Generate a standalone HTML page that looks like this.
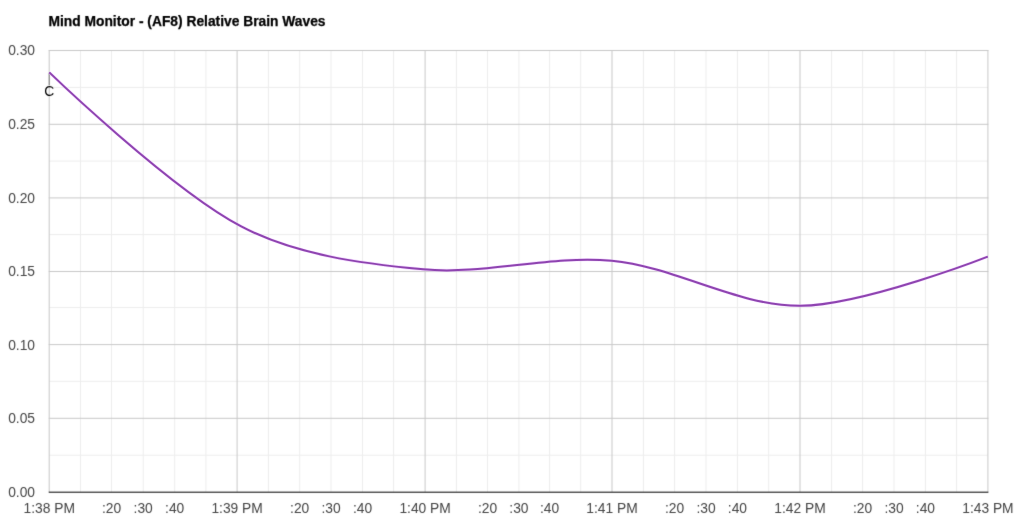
<!DOCTYPE html>
<html lang="en">
<head>
<meta charset="utf-8">
<title>Mind Monitor - (AF8) Relative Brain Waves</title>
<style>
html,body{margin:0;padding:0;background:#ffffff;}
body{width:1024px;height:519px;overflow:hidden;font-family:"Liberation Sans",sans-serif;}
svg{display:block;}
</style>
</head>
<body>
<svg width="1024" height="519" viewBox="0 0 1024 519">
<defs><filter id="soft" x="0" y="0" width="1024" height="519" filterUnits="userSpaceOnUse" color-interpolation-filters="sRGB"><feConvolveMatrix order="3" kernelMatrix="0.015 0.075 0.015 0.075 0.64 0.075 0.015 0.075 0.015" divisor="1" edgeMode="duplicate" preserveAlpha="false"/></filter></defs>
<g filter="url(#soft)">
<rect x="0" y="0" width="1024" height="519" fill="#ffffff"/>
<g fill="#ededed">
<rect x="80.00" y="50.50" width="1" height="441.50"/>
<rect x="111.00" y="50.50" width="1" height="441.50"/>
<rect x="142.70" y="50.50" width="1" height="441.50"/>
<rect x="174.20" y="50.50" width="1" height="441.50"/>
<rect x="205.40" y="50.50" width="1" height="441.50"/>
<rect x="267.90" y="50.50" width="1" height="441.50"/>
<rect x="299.20" y="50.50" width="1" height="441.50"/>
<rect x="330.50" y="50.50" width="1" height="441.50"/>
<rect x="362.00" y="50.50" width="1" height="441.50"/>
<rect x="393.10" y="50.50" width="1" height="441.50"/>
<rect x="455.90" y="50.50" width="1" height="441.50"/>
<rect x="487.00" y="50.50" width="1" height="441.50"/>
<rect x="518.40" y="50.50" width="1" height="441.50"/>
<rect x="549.10" y="50.50" width="1" height="441.50"/>
<rect x="580.20" y="50.50" width="1" height="441.50"/>
<rect x="642.90" y="50.50" width="1" height="441.50"/>
<rect x="674.10" y="50.50" width="1" height="441.50"/>
<rect x="705.50" y="50.50" width="1" height="441.50"/>
<rect x="736.90" y="50.50" width="1" height="441.50"/>
<rect x="768.20" y="50.50" width="1" height="441.50"/>
<rect x="831.10" y="50.50" width="1" height="441.50"/>
<rect x="862.10" y="50.50" width="1" height="441.50"/>
<rect x="893.50" y="50.50" width="1" height="441.50"/>
<rect x="924.90" y="50.50" width="1" height="441.50"/>
<rect x="956.10" y="50.50" width="1" height="441.50"/>
<rect x="49.20" y="86.90" width="938.70" height="1"/>
<rect x="49.20" y="160.60" width="938.70" height="1"/>
<rect x="49.20" y="234.10" width="938.70" height="1"/>
<rect x="49.20" y="307.00" width="938.70" height="1"/>
<rect x="49.20" y="380.80" width="938.70" height="1"/>
<rect x="49.20" y="454.70" width="938.70" height="1"/>
</g>
<g fill="#c8c8c8">
<rect x="48.70" y="50.00" width="1" height="442.00"/>
<rect x="236.60" y="50.00" width="1" height="442.00"/>
<rect x="424.60" y="50.00" width="1" height="442.00"/>
<rect x="611.50" y="50.00" width="1" height="442.00"/>
<rect x="799.50" y="50.00" width="1" height="442.00"/>
<rect x="987.40" y="50.00" width="1" height="442.00"/>
<rect x="48.70" y="50.00" width="939.70" height="1"/>
<rect x="48.70" y="123.80" width="939.70" height="1"/>
<rect x="48.70" y="197.40" width="939.70" height="1"/>
<rect x="48.70" y="271.00" width="939.70" height="1"/>
<rect x="48.70" y="344.10" width="939.70" height="1"/>
<rect x="48.70" y="417.80" width="939.70" height="1"/>
</g>
<rect x="48.70" y="491.60" width="939.70" height="1.25" fill="#333333"/>
<rect x="48.70" y="73" width="1" height="12" fill="#7a7a7a"/>

<g font-family="&quot;Liberation Sans&quot;, sans-serif" font-size="13.8" fill="#444444">
<text x="35" y="55.40" text-anchor="end">0.30</text>
<text x="35" y="129.20" text-anchor="end">0.25</text>
<text x="35" y="202.80" text-anchor="end">0.20</text>
<text x="35" y="276.40" text-anchor="end">0.15</text>
<text x="35" y="349.50" text-anchor="end">0.10</text>
<text x="35" y="423.20" text-anchor="end">0.05</text>
<text x="35" y="496.90" text-anchor="end">0.00</text>
<text x="49.20" y="512.5" text-anchor="middle">1:38 PM</text>
<text x="237.10" y="512.5" text-anchor="middle">1:39 PM</text>
<text x="425.10" y="512.5" text-anchor="middle">1:40 PM</text>
<text x="612.00" y="512.5" text-anchor="middle">1:41 PM</text>
<text x="800.00" y="512.5" text-anchor="middle">1:42 PM</text>
<text x="987.90" y="512.5" text-anchor="middle">1:43 PM</text>
<text x="111.50" y="512.5" text-anchor="middle">:20</text>
<text x="143.20" y="512.5" text-anchor="middle">:30</text>
<text x="174.70" y="512.5" text-anchor="middle">:40</text>
<text x="299.70" y="512.5" text-anchor="middle">:20</text>
<text x="331.00" y="512.5" text-anchor="middle">:30</text>
<text x="362.50" y="512.5" text-anchor="middle">:40</text>
<text x="487.50" y="512.5" text-anchor="middle">:20</text>
<text x="518.90" y="512.5" text-anchor="middle">:30</text>
<text x="549.60" y="512.5" text-anchor="middle">:40</text>
<text x="674.60" y="512.5" text-anchor="middle">:20</text>
<text x="706.00" y="512.5" text-anchor="middle">:30</text>
<text x="737.40" y="512.5" text-anchor="middle">:40</text>
<text x="862.60" y="512.5" text-anchor="middle">:20</text>
<text x="894.00" y="512.5" text-anchor="middle">:30</text>
<text x="925.40" y="512.5" text-anchor="middle">:40</text>
</g>
<text x="49.20" y="96.1" text-anchor="middle" font-family="&quot;Liberation Sans&quot;, sans-serif" font-size="13.8" fill="#000000">C</text>
<text x="48.5" y="26.3" font-family="&quot;Liberation Sans&quot;, sans-serif" font-size="13.8" font-weight="bold" fill="#000000" stroke="#000000" stroke-width="0.25">Mind Monitor - (AF8) Relative Brain Waves</text>
</g>
<path d="M49.30,72.40 C49.30,72.40 170.39,189.09 241.20,226.39 C295.02,254.74 361.73,263.67 423.21,269.37 C485.29,275.12 549.83,254.76 611.88,260.75 C675.68,266.91 737.99,306.48 800.77,305.80 C863.29,305.12 987.80,256.65 987.80,256.65" fill="none" stroke="#e9b8ff" stroke-opacity="0.5" stroke-width="3.1" stroke-linejoin="round"/>
<path d="M49.30,72.40 C49.30,72.40 170.39,189.09 241.20,226.39 C295.02,254.74 361.73,263.67 423.21,269.37 C485.29,275.12 549.83,254.76 611.88,260.75 C675.68,266.91 737.99,306.48 800.77,305.80 C863.29,305.12 987.80,256.65 987.80,256.65" fill="none" stroke="#8e44b0" stroke-width="2.0" stroke-linejoin="round"/>
</svg>
</body>
</html>
